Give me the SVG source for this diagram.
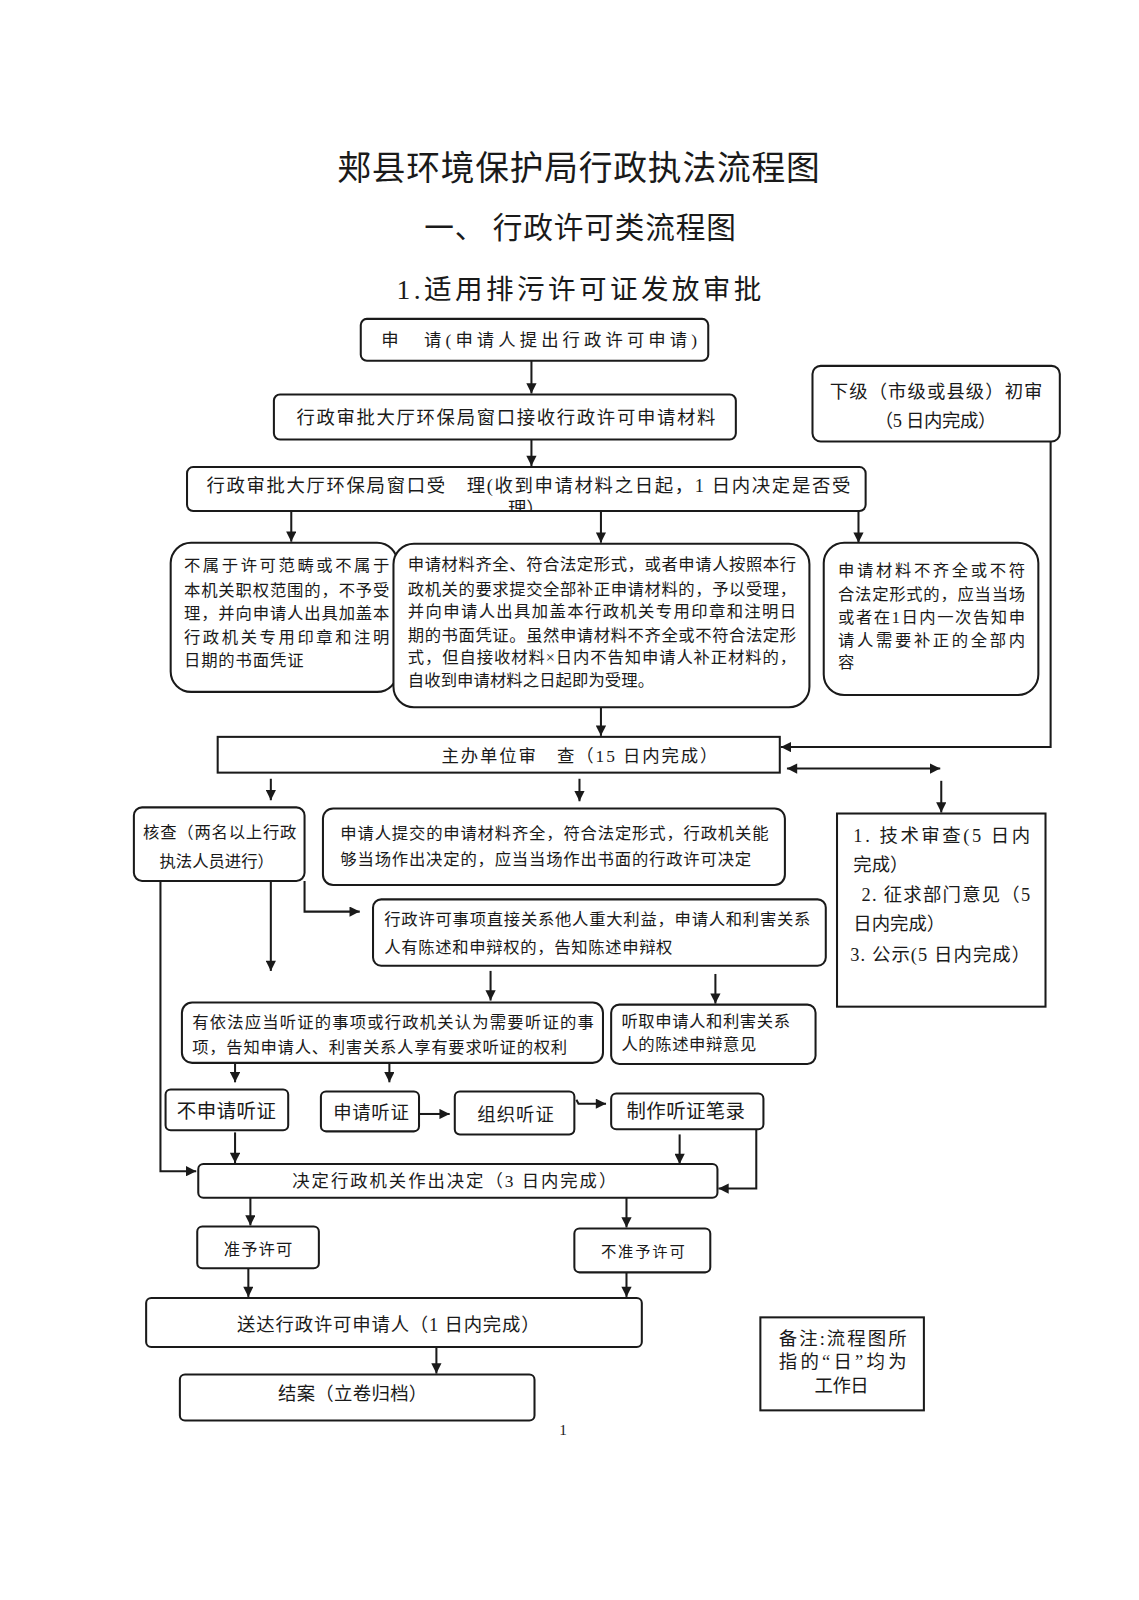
<svg xmlns="http://www.w3.org/2000/svg" width="1139" height="1600" viewBox="0 0 1139 1600">
<defs>
<marker id="ah" viewBox="0 0 10 10" refX="10" refY="5" markerWidth="11" markerHeight="10" markerUnits="userSpaceOnUse" orient="auto-start-reverse">
<path d="M0,0 L10,5 L0,10 z" fill="#1a1a1a"/>
</marker>
<clipPath id="clipAcc"><rect x="183" y="457" width="664" height="42"/></clipPath>
<style>
.b{fill:#fff;stroke:#1a1a1a;stroke-width:2}
.c{fill:none;stroke:#1a1a1a;stroke-width:2}
.ca{fill:none;stroke:#1a1a1a;stroke-width:2;marker-end:url(#ah)}
text{font-family:"Liberation Serif","Noto Sans CJK SC",serif;fill:#1a1a1a}
.s15{font-size:15px}.s16{font-size:16px}.s17{font-size:17px}.s18{font-size:18px}.s19{font-size:19px}
</style>
</defs>
<rect width="1139" height="1600" fill="#fff"/>
<g transform="scale(1.022)">
<g id="titles">
<text x="330" y="176" font-size="33" textLength="472" lengthAdjust="spacing" style="font-family:'Noto Sans CJK SC',sans-serif">郏县环境保护局行政执法流程图</text>
<text x="415" y="233" font-size="29" textLength="305" lengthAdjust="spacing" style="font-family:'Noto Sans CJK SC',sans-serif">一、 行政许可类流程图</text>
<text x="388" y="293" font-size="27" textLength="357" lengthAdjust="spacing">1.适用排污许可证发放审批</text>
</g>
<g id="connectors">
<line class="ca" x1="520" y1="353" x2="520" y2="385"/>
<line class="ca" x1="520" y1="430" x2="520" y2="456"/>
<line class="ca" x1="285" y1="500" x2="285" y2="530"/>
<line class="ca" x1="588" y1="500" x2="588" y2="531"/>
<line class="ca" x1="840" y1="500" x2="840" y2="531"/>
<polyline class="ca" points="1028,432 1028,731 764,731"/>
<line class="ca" x1="588" y1="692" x2="588" y2="720"/>
<line class="ca" x1="770" y1="752" x2="920" y2="752" style="marker-start:url(#ah)"/>
<line class="ca" x1="265" y1="762" x2="265" y2="783"/>
<line class="ca" x1="567" y1="762" x2="567" y2="784"/>
<line class="ca" x1="921" y1="764" x2="921" y2="795"/>
<polyline class="ca" points="298,862 298,892 352,892"/>
<line class="ca" x1="265" y1="862" x2="265" y2="950"/>
<polyline class="ca" points="157,862 157,1146 192,1146"/>
<line class="ca" x1="480" y1="950" x2="480" y2="979"/>
<line class="ca" x1="700" y1="953" x2="700" y2="982"/>
<line class="ca" x1="230" y1="1041" x2="230" y2="1059"/>
<line class="ca" x1="381" y1="1041" x2="381" y2="1059"/>
<line class="ca" x1="410" y1="1090" x2="440" y2="1090"/>
<polyline class="ca" points="564,1076 566,1080 593,1080"/>
<line class="ca" x1="665" y1="1110" x2="665" y2="1139"/>
<polyline class="ca" points="740,1105 740,1163 703,1163"/>
<line class="ca" x1="230" y1="1108" x2="230" y2="1138"/>
<line class="ca" x1="245" y1="1172" x2="245" y2="1199"/>
<line class="ca" x1="613" y1="1172" x2="613" y2="1201"/>
<line class="ca" x1="243" y1="1241" x2="243" y2="1269"/>
<line class="ca" x1="613" y1="1245" x2="613" y2="1269"/>
<line class="ca" x1="427" y1="1318" x2="427" y2="1344"/>
</g>
<g id="n-apply">
<rect class="b" x="353" y="312" width="340" height="41" rx="6"/>
<text class="s17" x="373" y="339" textLength="309" lengthAdjust="spacing">申　请(申请人提出行政许可申请)</text>
</g>
<g id="n-receive">
<rect class="b" x="268" y="386" width="452" height="44" rx="6"/>
<text class="s18" x="290" y="415" textLength="410" lengthAdjust="spacing">行政审批大厅环保局窗口接收行政许可申请材料</text>
</g>
<g id="n-accept">
<rect class="b" x="183" y="457" width="664" height="43" rx="6"/>
<text class="s18" x="202" y="481" textLength="630" lengthAdjust="spacing">行政审批大厅环保局窗口受　理(收到申请材料之日起，1 日内决定是否受</text>
<text class="s18" x="515" y="504" text-anchor="middle" clip-path="url(#clipAcc)">理）</text>
</g>
<g id="n-lower">
<rect class="b" x="795" y="358" width="242" height="74" rx="8"/>
<text class="s18" x="812" y="389" textLength="208" lengthAdjust="spacing">下级（市级或县级）初审</text>
<text class="s18" x="856" y="418" textLength="119" lengthAdjust="spacing">（5 日内完成）</text>
</g>
<g id="n-reject">
<rect class="b" x="167" y="531" width="222" height="146" rx="20"/>
<text class="s16" x="180" y="559" textLength="201" lengthAdjust="spacing">不属于许可范畴或不属于</text>
<text class="s16" x="180" y="583" textLength="201" lengthAdjust="spacing">本机关职权范围的，不予受</text>
<text class="s16" x="180" y="606" textLength="201" lengthAdjust="spacing">理，并向申请人出具加盖本</text>
<text class="s16" x="180" y="629" textLength="201" lengthAdjust="spacing">行政机关专用印章和注明</text>
<text class="s16" x="180" y="652" textLength="117" lengthAdjust="spacing">日期的书面凭证</text>
</g>
<g id="n-ok">
<rect class="b" x="385" y="532" width="407" height="160" rx="20"/>
<text class="s16" x="399" y="558" textLength="380" lengthAdjust="spacing">申请材料齐全、符合法定形式，或者申请人按照本行</text>
<text class="s16" x="399" y="582" textLength="380" lengthAdjust="spacing">政机关的要求提交全部补正申请材料的，予以受理，</text>
<text class="s16" x="399" y="604" textLength="380" lengthAdjust="spacing">并向申请人出具加盖本行政机关专用印章和注明日</text>
<text class="s16" x="399" y="627" textLength="380" lengthAdjust="spacing">期的书面凭证。虽然申请材料不齐全或不符合法定形</text>
<text class="s16" x="399" y="649" textLength="380" lengthAdjust="spacing">式，但自接收材料×日内不告知申请人补正材料的，</text>
<text class="s16" x="399" y="671" textLength="241" lengthAdjust="spacing">自收到申请材料之日起即为受理。</text>
</g>
<g id="n-incomplete">
<rect class="b" x="806" y="531" width="210" height="149" rx="20"/>
<text class="s16" x="820" y="564" textLength="183" lengthAdjust="spacing">申请材料不齐全或不符</text>
<text class="s16" x="820" y="587" textLength="183" lengthAdjust="spacing">合法定形式的，应当当场</text>
<text class="s16" x="820" y="610" textLength="183" lengthAdjust="spacing">或者在1日内一次告知申</text>
<text class="s16" x="820" y="632" textLength="183" lengthAdjust="spacing">请人需要补正的全部内</text>
<text class="s16" x="820" y="654">容</text>
</g>
<g id="n-review">
<rect class="b" x="213" y="721" width="550" height="35"/>
<text class="s17" x="432" y="746" textLength="270" lengthAdjust="spacing">主办单位审　查（15 日内完成）</text>
</g>
<g id="n-check">
<rect class="b" x="131" y="790" width="167" height="72" rx="8"/>
<text class="s16" x="140" y="820" textLength="150" lengthAdjust="spacing">核查（两名以上行政</text>
<text class="s16" x="156" y="848" textLength="112" lengthAdjust="spacing">执法人员进行）</text>
</g>
<g id="n-onsite">
<rect class="b" x="316" y="791" width="452" height="75" rx="10"/>
<text class="s16" x="333" y="821" textLength="419" lengthAdjust="spacing">申请人提交的申请材料齐全，符合法定形式，行政机关能</text>
<text class="s16" x="333" y="846" textLength="402" lengthAdjust="spacing">够当场作出决定的，应当当场作出书面的行政许可决定</text>
</g>
<g id="n-tech">
<rect class="b" x="819" y="796" width="204" height="189"/>
<text class="s18" x="835" y="824" textLength="173" lengthAdjust="spacing">1.  技术审查(5 日内</text>
<text class="s18" x="835" y="852">完成）</text>
<text class="s18" x="843" y="882" textLength="165" lengthAdjust="spacing">2. 征求部门意见（5</text>
<text class="s18" x="835" y="910">日内完成）</text>
<text class="s18" x="832" y="940" textLength="176" lengthAdjust="spacing">3. 公示(5 日内完成）</text>
</g>
<g id="n-interest">
<rect class="b" x="365" y="880" width="443" height="65" rx="8"/>
<text class="s16" x="376" y="905" textLength="417" lengthAdjust="spacing">行政许可事项直接关系他人重大利益，申请人和利害关系</text>
<text class="s16" x="376" y="932" textLength="282" lengthAdjust="spacing">人有陈述和申辩权的，告知陈述申辩权</text>
</g>
<g id="n-hearing-notice">
<rect class="b" x="178" y="981" width="412" height="59" rx="10"/>
<text class="s16" x="188" y="1006" textLength="393" lengthAdjust="spacing">有依法应当听证的事项或行政机关认为需要听证的事</text>
<text class="s16" x="188" y="1030" textLength="367" lengthAdjust="spacing">项，告知申请人、利害关系人享有要求听证的权利</text>
</g>
<g id="n-listen">
<rect class="b" x="598" y="983" width="200" height="58" rx="8"/>
<text class="s16" x="608" y="1005" textLength="165" lengthAdjust="spacing">听取申请人和利害关系</text>
<text class="s16" x="608" y="1027" textLength="132" lengthAdjust="spacing">人的陈述申辩意见</text>
</g>
<g id="n-nohearing">
<rect class="b" x="162" y="1066" width="120" height="40" rx="5"/>
<text class="s19" x="173" y="1094" textLength="97" lengthAdjust="spacing">不申请听证</text>
</g>
<g id="n-hearing">
<rect class="b" x="314" y="1068" width="96" height="39" rx="5"/>
<text class="s18" x="326" y="1095" textLength="74" lengthAdjust="spacing">申请听证</text>
</g>
<g id="n-organize">
<rect class="b" x="445" y="1068" width="117" height="42" rx="5"/>
<text class="s18" x="467" y="1097" textLength="75" lengthAdjust="spacing">组织听证</text>
</g>
<g id="n-record">
<rect class="b" x="598" y="1070" width="149" height="35" rx="5"/>
<text class="s19" x="613" y="1094" textLength="116" lengthAdjust="spacing">制作听证笔录</text>
</g>
<g id="n-decide">
<rect class="b" x="194" y="1139" width="508" height="33" rx="5"/>
<text class="s17" x="286" y="1161" textLength="317" lengthAdjust="spacing">决定行政机关作出决定（3 日内完成）</text>
</g>
<g id="n-grant">
<rect class="b" x="193" y="1200" width="119" height="41" rx="5"/>
<text class="s16" x="219" y="1228" textLength="67" lengthAdjust="spacing">准予许可</text>
</g>
<g id="n-deny">
<rect class="b" x="562" y="1202" width="133" height="43" rx="5"/>
<text class="s15" x="588" y="1230" textLength="82" lengthAdjust="spacing">不准予许可</text>
</g>
<g id="n-deliver">
<rect class="b" x="143" y="1270" width="485" height="48" rx="5"/>
<text class="s18" x="232" y="1302" textLength="296" lengthAdjust="spacing">送达行政许可申请人（1 日内完成）</text>
</g>
<g id="n-close">
<rect class="b" x="176" y="1345" width="347" height="45" rx="5"/>
<text class="s18" x="272" y="1370" textLength="146" lengthAdjust="spacing">结案（立卷归档）</text>
</g>
<g id="n-note">
<rect class="b" x="744" y="1289" width="160" height="91"/>
<text class="s18" x="762" y="1316" textLength="125" lengthAdjust="spacing">备注:流程图所</text>
<text class="s18" x="762" y="1339" textLength="125" lengthAdjust="spacing">指的“日”均为</text>
<text class="s18" x="797" y="1362" textLength="53" lengthAdjust="spacing">工作日</text>
</g>
<text x="551" y="1404" font-size="15" text-anchor="middle">1</text>
</g>
</svg>
